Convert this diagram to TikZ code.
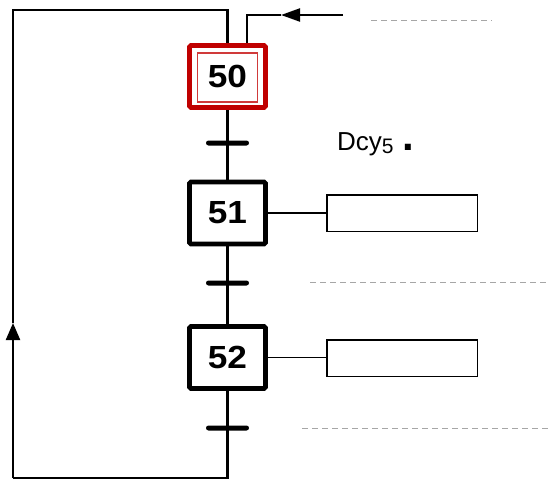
\documentclass[tikz,border=0pt]{standalone}
\usepackage{fontspec}
\setmainfont{Liberation Sans}
\usetikzlibrary{arrows.meta}
\definecolor{stepred}{HTML}{C00000}
\definecolor{innerred}{HTML}{D03A3A}
\definecolor{dashgray}{HTML}{A6A6A6}
\begin{document}
\begin{tikzpicture}[x=1pt,y=-1pt,
  stepbox/.style={draw, line width=4.8pt, rounded corners=1.5pt, minimum width=76pt, minimum height=62pt, inner sep=0pt, font=\fontsize{32}{32}\selectfont\bfseries},
  innerbox/.style={draw=innerred, line width=1.5pt, minimum width=60pt, minimum height=49pt, inner sep=0pt},
  actbox/.style={draw, line width=1.5pt, minimum width=150.5pt, minimum height=36.5pt, inner sep=0pt},
  tbar/.style={fill=black, minimum width=43pt, minimum height=5pt, rounded corners=2.5pt, inner sep=0pt},
  link/.style={line width=2.2pt},
  actlink/.style={line width=1.5pt},
  guide/.style={draw=dashgray, line width=1pt, dash pattern=on 6pt off 4pt}]
\useasboundingbox (0,0) rectangle (549,480);
% steps
\node[stepbox, draw=stepred] (s50) at (227.5,76.5) {\scalebox{1.1}[1]{50}};
\node[innerbox] (i50) at (227.5,77.3) {};
\node[stepbox] (s51) at (227.5,213) {\scalebox{1.1}[1]{51}};
\node[stepbox] (s52) at (227.5,357.5) {\scalebox{1.1}[1]{52}};
% actions
\node[actbox] (a51) at (402,213) {};
\node[actbox] (a52) at (402,358) {};
% transitions
\node[tbar] (t1) at (227.5,143) {};
\node[tbar] (t2) at (227.5,283) {};
\node[tbar] (t3) at (227.5,428) {};
% coordinates
\coordinate (bot) at (227.5,478);
\coordinate (bl) at (13,478);
\coordinate (up) at (13,323);
\coordinate (tl) at (13,10);
\coordinate (tr) at (227.5,10);
\coordinate (ein) at (343,15);
\coordinate (emid) at (281,15);
\coordinate (ecorner) at (247,15);
% main flow
\draw[link] (s50.south) -- (s51.north);
\draw[link] (s51.south) -- (s52.north);
\draw[link] (s52.south) -- (bot) -- (bl);
\draw[link, -{Triangle[length=17pt,width=14pt]}] (bl) -- (up);
\draw[link] (up) -- (tl) -- (tr) -- (s50.north);
% entry
\draw[link, -{Triangle[length=19pt,width=13pt]}] (ein) -- (emid);
\draw[link] (emid) -- (ecorner) -- (ecorner |- s50.north);
% action links
\draw[actlink] (s51.east) -- (s51.east -| a51.west);
\draw[actlink] (s52.east) -- (s52.east -| a52.west);
% guides
\coordinate (g1a) at (371,20); \coordinate (g1b) at (492,20);
\coordinate (g2a) at (310,282); \coordinate (g2b) at (549,282);
\coordinate (g3a) at (302,428); \coordinate (g3b) at (549,428);
\draw[guide] (g1a) -- (g1b);
\draw[guide] (g2a) -- (g2b);
\draw[guide] (g3a) -- (g3b);
% receptivity
\node[anchor=base west, inner sep=0pt, font=\fontsize{26}{26}\selectfont] (dcy) at (337,150) {Dcy\raisebox{-3pt}{\fontsize{21}{21}\selectfont 5}\hspace{9pt}{\fontsize{42}{42}\selectfont\bfseries .}};
\end{tikzpicture}
\end{document}
